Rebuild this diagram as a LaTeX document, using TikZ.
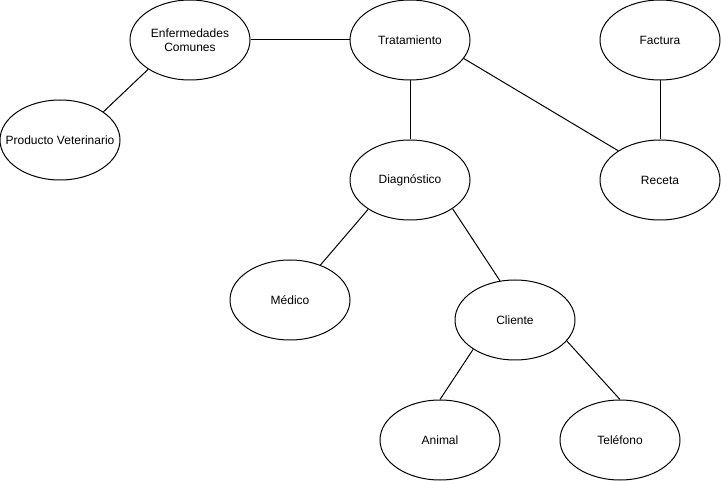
\documentclass[tikz,border=0pt]{standalone}
\usepackage{fontspec}
\setmainfont{Liberation Sans}
\usetikzlibrary{shapes.geometric}
\newcommand{\zw}[1]{\makebox[0pt][c]{#1}}
\begin{document}
\begin{tikzpicture}[x=1pt,y=-1pt,
  ent/.style={draw=black,line width=1pt,ellipse,minimum width=120pt,minimum height=80pt,inner sep=0pt,align=center,font=\fontsize{12}{14.4}\selectfont},
  conn/.style={draw=black,line width=1pt}]
\useasboundingbox (0,0) rectangle (721,481);
\node[ent] (enf) at (190,40) {Enfermedades\\Comunes};
\node[ent] (trat) at (410,40) {Tratamiento};
\node[ent] (fact) at (660,40) {Factura};
\node[ent] (prod) at (60,140) {\zw{Producto Veterinario}};
\node[ent] (diag) at (410,180) {Diagnóstico};
\node[ent] (rec) at (660,180) {Receta};
\node[ent] (med) at (290,300) {Médico};
\node[ent] (cli) at (515,320) {Cliente};
\node[ent] (ani) at (440,440) {Animal};
\node[ent] (tel) at (620,440) {Teléfono};
\draw[conn] (enf.east) -- (trat.west);
\draw[conn] (enf.215) -- (prod.33);
\draw[conn] (trat.south) -- (diag.north);
\draw[conn] (trat.-19) -- (rec.145);
\draw[conn] (fact.south) -- (rec.north);
\draw[conn] (diag.215) -- (med.49);
\draw[conn] (diag.-34) -- (cli.111);
\draw[conn] (cli.215) -- (ani.north);
\draw[conn] (cli.-22) -- (tel.north);
\end{tikzpicture}
\end{document}
